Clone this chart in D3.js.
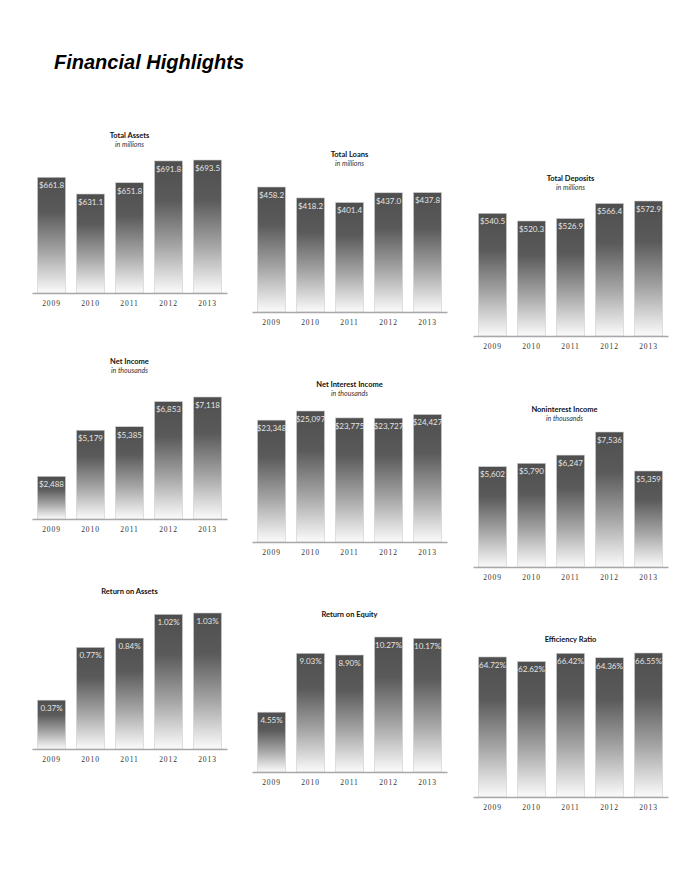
<!DOCTYPE html>
<html>
<head>
<meta charset="utf-8">
<script src="https://cdn.jsdelivr.net/npm/d3@7"></script>
<style>
    body { margin: 0; background: #fff; }
    svg { display: block; }
    .ttl { font-family: Lato, 'Noto Sans', sans-serif; font-weight: 700; font-size: 7.5px; fill: #111; }
    .sub { font-family: Lato, 'Noto Sans', sans-serif; font-style: italic; font-size: 7px; fill: #333; }
    .val { font-family: Lato, 'Noto Sans', sans-serif; font-size: 8px; fill: #e4e4e4; }
    .yr { font-family: 'Liberation Serif', 'DejaVu Serif', serif; font-size: 7.5px; letter-spacing: 0.9px; fill: #333; }
</style>
</head>
<body>
<div id="chart"></div>
<script>
const years = [ '2009', '2010', '2011', '2012', '2013' ];

const totalAssets = [ 661.8, 631.1, 651.8, 691.8, 693.5 ];
const totalLoans = [ 458.2, 418.2, 401.4, 437.0, 437.8 ];
const totalDeposits = [ 540.5, 520.3, 526.9, 566.4, 572.9 ];
const netIncome = [ 2488, 5179, 5385, 6853, 7118 ];
const netInterestIncome = [ 23348, 25097, 23775, 23727, 24427 ];
const noninterestIncome = [ 5602, 5790, 6247, 7536, 5359 ];
const returnOnAssets = [ 0.37, 0.77, 0.84, 1.02, 1.03 ];
const returnOnEquity = [ 4.55, 9.03, 8.90, 10.27, 10.17 ];
const efficiencyRatio = [ 64.72, 62.62, 66.42, 64.36, 66.55 ];

const chartTitles = [ 'Total Assets', 'Total Loans', 'Total Deposits',
    'Net Income', 'Net Interest Income', 'Noninterest Income',
    'Return on Assets', 'Return on Equity', 'Efficiency Ratio' ];
const chartUnits = [ 'in millions', 'in millions', 'in millions',
    'in thousands', 'in thousands', 'in thousands', '', '', '' ];

const fmtMillions = v => '$' + d3.format( ',.1f' )( v );
const fmtThousands = v => '$' + d3.format( ',' )( v );
const fmtPct = v => d3.format( '.2f' )( v ) + '%';

const series = [ totalAssets, totalLoans, totalDeposits, netIncome, netInterestIncome,
    noninterestIncome, returnOnAssets, returnOnEquity, efficiencyRatio ];
const formats = [ fmtMillions, fmtMillions, fmtMillions, fmtThousands, fmtThousands,
    fmtThousands, fmtPct, fmtPct, fmtPct ];

// where each little chart sits on the page (x range of axis, baseline, y of the max bar)
const panels = [
    { x0: 32, x1: 227, base: 293, top: 160, yMin: 449.4 },
    { x0: 252, x1: 447, base: 312, top: 187, yMin: 0 },
    { x0: 473, x1: 668, base: 336, top: 201, yMin: 217.7 },
    { x0: 32, x1: 227, base: 519, top: 397, yMin: 0 },
    { x0: 252, x1: 447, base: 542, top: 411, yMin: 0 },
    { x0: 473, x1: 668, base: 567, top: 432, yMin: 0, tdx: -6 },
    { x0: 32, x1: 227, base: 749, top: 613, yMin: 0 },
    { x0: 252, x1: 447, base: 772, top: 637, yMin: 0 },
    { x0: 473, x1: 668, base: 797, top: 653, yMin: 0 }
];

const W = 690, H = 893;
const svg = d3.select( '#chart' ).append( 'svg' ).attr( 'width', W ).attr( 'height', H );

const grad = svg.append( 'defs' ).append( 'linearGradient' )
    .attr( 'id', 'barFill' ).attr( 'x1', 0 ).attr( 'y1', 0 ).attr( 'x2', 0 ).attr( 'y2', 1 );
[ [ 0, '#4f4f4f' ], [ 0.3, '#5a5a5a' ], [ 0.65, '#a6a6a6' ], [ 1, '#fbfbfb' ] ].forEach( s => {
    grad.append( 'stop' ).attr( 'offset', s[ 0 ] ).attr( 'stop-color', s[ 1 ] );
} );

svg.append( 'text' )
    .attr( 'x', 54 ).attr( 'y', 69 )
    .style( 'font-family', "'Liberation Sans', Arial, sans-serif" )
    .style( 'font-weight', 700 ).style( 'font-style', 'italic' )
    .style( 'font-size', '20px' ).style( 'fill', '#000' )
    .text( 'Financial Highlights' );

series.forEach( ( values, i ) => {
    const p = panels[ i ];
    const g = svg.append( 'g' );

    const x = d3.scaleBand().domain( years ).range( [ p.x0, p.x1 ] )
        .paddingInner( 0.28 ).paddingOuter( 0.14 );
    const y = d3.scaleLinear().domain( [ p.yMin, d3.max( values ) ] ).range( [ p.base, p.top ] );

    const cx = ( p.x0 + p.x1 ) / 2 + ( p.tdx || 0 );
    const ty = p.base - 155;
    g.append( 'text' ).attr( 'class', 'ttl' ).attr( 'x', cx ).attr( 'y', ty )
        .attr( 'text-anchor', 'middle' ).text( chartTitles[ i ] );
    if( chartUnits[ i ] ){
        g.append( 'text' ).attr( 'class', 'sub' ).attr( 'x', cx ).attr( 'y', ty + 8.5 )
            .attr( 'text-anchor', 'middle' ).text( chartUnits[ i ] );
    }

    g.selectAll( 'rect.bar' )
        .data( values )
        .enter().append( 'rect' )
        .attr( 'class', 'bar' )
        .attr( 'x', ( d, j ) => x( years[ j ] ) )
        .attr( 'y', d => y( d ) )
        .attr( 'width', x.bandwidth() )
        .attr( 'height', d => p.base - y( d ) )
        .attr( 'fill', 'url(#barFill)' )
        .attr( 'stroke', '#cfcfcf' )
        .attr( 'stroke-width', 0.6 );

    g.selectAll( 'text.val' )
        .data( values )
        .enter().append( 'text' )
        .attr( 'class', 'val' )
        .attr( 'x', ( d, j ) => x( years[ j ] ) + x.bandwidth() / 2 )
        .attr( 'y', d => y( d ) + 10.8 )
        .attr( 'text-anchor', 'middle' )
        .text( d => formats[ i ]( d ) );

    const axis = g.append( 'g' )
        .attr( 'transform', 'translate(0,' + p.base + ')' )
        .call( d3.axisBottom( x ).tickSize( 0 ).tickPadding( 8 ) );
    axis.select( '.domain' ).attr( 'stroke', '#a8a8a8' ).attr( 'stroke-width', 1.6 );
    axis.selectAll( 'text' ).attr( 'class', 'yr' ).attr( 'fill', null ).attr( 'font-size', null ).attr( 'font-family', null );
    axis.attr( 'font-size', null ).attr( 'font-family', null );
} );
</script>
</body>
</html>
